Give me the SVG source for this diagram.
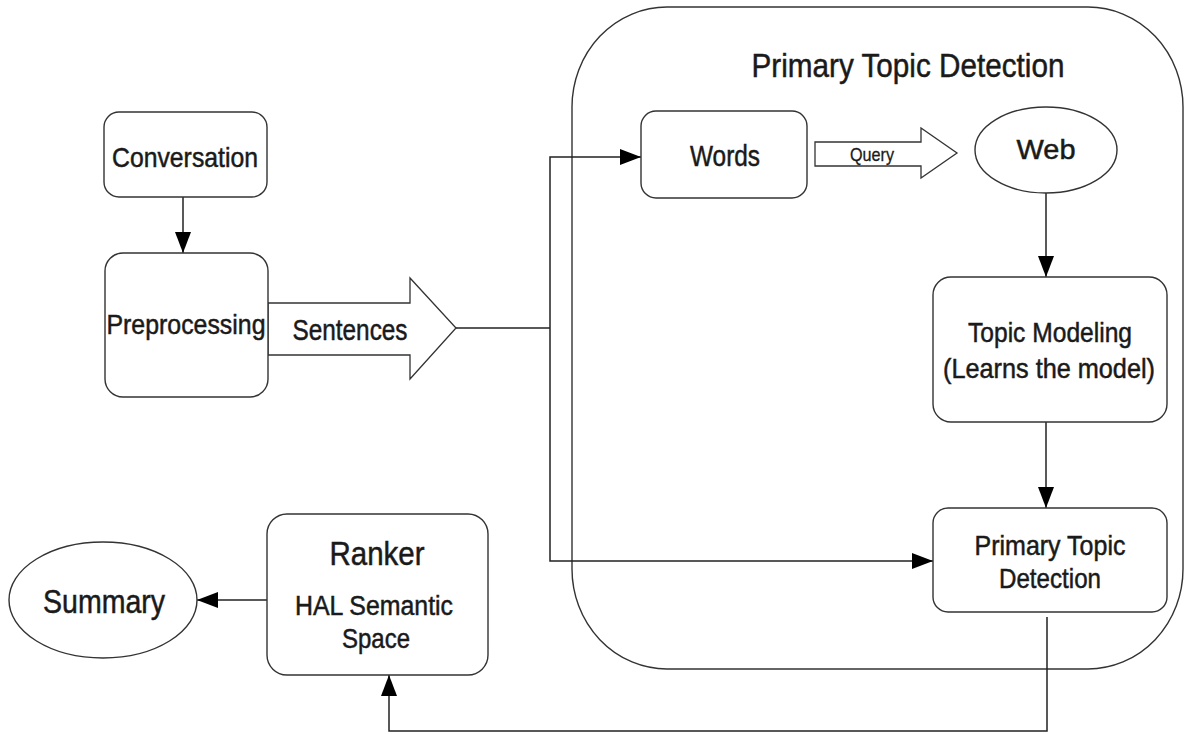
<svg xmlns="http://www.w3.org/2000/svg" width="1184" height="734" viewBox="0 0 1184 734">
<style>
.box{fill:#fff;stroke:#333;stroke-width:1.4}
.ln{fill:none;stroke:#222;stroke-width:1.5}
.blk{fill:#fff;stroke:#333;stroke-width:1.3}
text{font-family:"Liberation Sans",Arial,sans-serif;fill:#1a1a1a;stroke:#1a1a1a;stroke-width:0.5;text-anchor:middle}
</style>
<defs>
<marker id="ah" markerUnits="userSpaceOnUse" markerWidth="22" markerHeight="16" refX="21" refY="8" orient="auto">
<path d="M0,0 L21,8 L0,16 Z" fill="#000"/>
</marker>
</defs>
<rect fill="#fff" x="0" y="0" width="1184" height="734"/>
<g id="container">
<rect class="box" x="572" y="7" width="611" height="662" rx="95" ry="100"/>
<text x="908" y="77" font-size="34" textLength="313" lengthAdjust="spacingAndGlyphs">Primary Topic Detection</text>
</g>
<g id="connectors">
<path class="ln" d="M183,197 V253" marker-end="url(#ah)"/>
<polygon class="blk" points="268,303 410,303 410,278 456,328 410,379 410,355 268,355"/>
<path class="ln" d="M456,328 H550"/>
<path class="ln" d="M550,328 V157 H641" marker-end="url(#ah)"/>
<path class="ln" d="M550,328 V561 H933" marker-end="url(#ah)"/>
<polygon class="blk" points="815,142 921,142 921,128 957,153 921,178 921,166 815,166"/>
<path class="ln" d="M1046,193 V277" marker-end="url(#ah)"/>
<path class="ln" d="M1046,422 V508" marker-end="url(#ah)"/>
<path class="ln" d="M1047,617 V731 H389 V675" marker-end="url(#ah)"/>
<path class="ln" d="M267,600 H197" marker-end="url(#ah)"/>
<text x="350" y="340" font-size="29" textLength="115" lengthAdjust="spacingAndGlyphs">Sentences</text>
<text x="872" y="161" font-size="19" textLength="44" lengthAdjust="spacingAndGlyphs" style="stroke-width:0.3">Query</text>
</g>
<g id="conversation">
<rect class="box" x="104" y="112" width="163" height="85" rx="15"/>
<text x="185" y="167" font-size="28" textLength="146" lengthAdjust="spacingAndGlyphs">Conversation</text>
</g>
<g id="preprocessing">
<rect class="box" x="105" y="253" width="163" height="144" rx="18"/>
<text x="186" y="334" font-size="28" textLength="159" lengthAdjust="spacingAndGlyphs">Preprocessing</text>
</g>
<g id="words">
<rect class="box" x="641" y="111" width="166" height="87" rx="15"/>
<text x="725" y="166" font-size="29" textLength="70" lengthAdjust="spacingAndGlyphs">Words</text>
</g>
<g id="web">
<ellipse class="box" cx="1046" cy="150" rx="71" ry="43"/>
<text x="1046" y="159" font-size="28" textLength="59" lengthAdjust="spacingAndGlyphs">Web</text>
</g>
<g id="topic-modeling">
<rect class="box" x="933" y="277" width="234" height="145" rx="18"/>
<text x="1050" y="342" font-size="28" textLength="164" lengthAdjust="spacingAndGlyphs">Topic Modeling</text>
<text x="1049" y="378" font-size="28" textLength="212" lengthAdjust="spacingAndGlyphs">(Learns the model)</text>
</g>
<g id="primary-topic-detection">
<rect class="box" x="933" y="508" width="234" height="104" rx="15"/>
<text x="1050" y="555" font-size="28" textLength="151" lengthAdjust="spacingAndGlyphs">Primary Topic</text>
<text x="1050" y="588" font-size="28" textLength="102" lengthAdjust="spacingAndGlyphs">Detection</text>
</g>
<g id="ranker">
<rect class="box" x="267" y="514" width="221" height="161" rx="20"/>
<text x="377" y="565" font-size="34" textLength="95" lengthAdjust="spacingAndGlyphs">Ranker</text>
<text x="374" y="615" font-size="27" textLength="158" lengthAdjust="spacingAndGlyphs">HAL Semantic</text>
<text x="376" y="648" font-size="28" textLength="68" lengthAdjust="spacingAndGlyphs">Space</text>
</g>
<g id="summary">
<ellipse class="box" cx="103" cy="600" rx="94" ry="58"/>
<text x="104" y="613" font-size="33" textLength="122" lengthAdjust="spacingAndGlyphs">Summary</text>
</g>
</svg>
